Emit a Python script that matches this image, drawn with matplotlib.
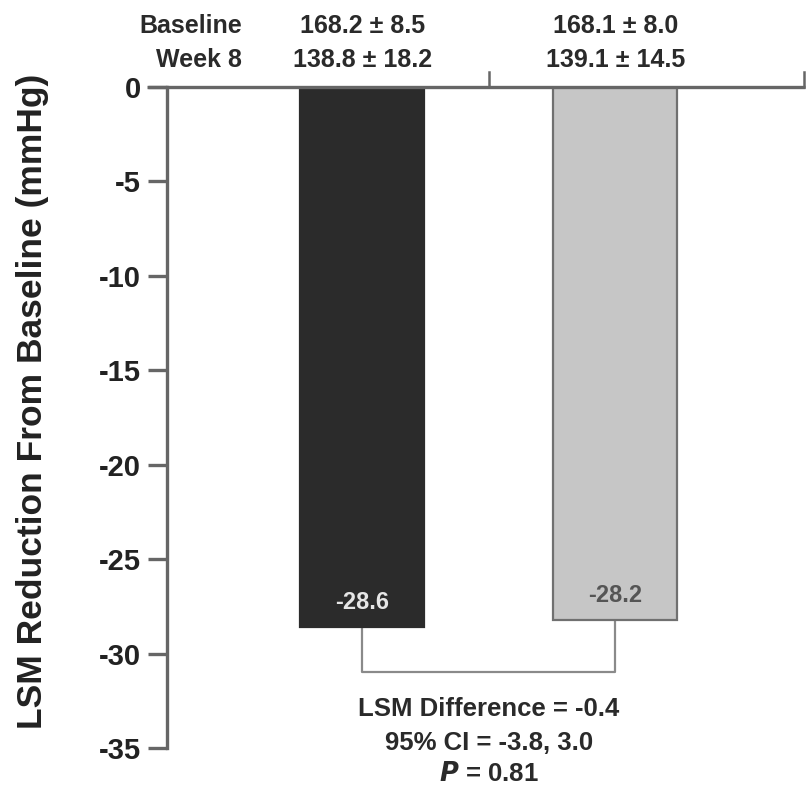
import matplotlib
matplotlib.use("Agg")
import matplotlib.pyplot as plt

plt.rcParams['font.family'] = ['Liberation Sans', 'DejaVu Sans']
plt.rcParams['font.weight'] = 'bold'

# Data
groups = ["Group A", "Group B"]
lsm_change = [-28.6, -28.2]
baseline_text = ["168.2 ± 8.5", "168.1 ± 8.0"]
week8_text = ["138.8 ± 18.2", "139.1 ± 14.5"]
bar_colors = ["#2b2b2b", "#c6c6c6"]
bar_edges = ["#2b2b2b", "#707070"]
label_colors = ["#e6e6e6", "#555555"]
yticks = [0, -5, -10, -15, -20, -25, -30, -35]
stats_lines = ["LSM Difference = -0.4", "95% CI = -3.8, 3.0", r"$\mathbf{\mathit{P}}$ = 0.81"]
bracket_level = -31.0

W, H = 808, 785
fig = plt.figure(figsize=(W / 100, H / 100), dpi=100)
# axes spans pixel x 147..805, y 87..748 (0 .. -35)
ax = fig.add_axes([147 / W, 1 - 748 / H, (805 - 147) / W, (748 - 87) / H])
ax.set_xlim(-0.85, 1.75)
ax.set_ylim(-35, 0)

axis_col = "#666666"
x = [0, 1]
ax.bar(x, lsm_change, width=0.49, color=bar_colors, edgecolor=bar_edges,
       linewidth=1.6, zorder=2)

for xi, v, c in zip(x, lsm_change, label_colors):
    ax.text(xi, v + 1.3, f"{v:.1f}", ha="center", va="center", fontsize=17,
            color=c, fontweight="bold", zorder=3)

# spines
for s in ["top", "right", "bottom"]:
    ax.spines[s].set_visible(False)
ax.spines["left"].set_position(("data", -0.77))
ax.spines["left"].set_color(axis_col)
ax.spines["left"].set_linewidth(2.4)
ax.set_xticks([])
ax.set_yticks(yticks)
ax.set_yticklabels([str(t) for t in yticks])
ax.tick_params(axis="y", direction="out", length=14, width=2.4, color=axis_col,
               labelsize=21, labelcolor="#222222", pad=5)

# zero line with divider ticks
ax.plot([-0.85, 1.75], [0, 0], color=axis_col, lw=2.4, clip_on=False, zorder=4,
        solid_capstyle="butt")
for xd in [0.5, 1.747]:
    ax.plot([xd, xd], [0, 0.8], color=axis_col, lw=1.8, clip_on=False, zorder=4)

# bracket between bars
bc = "#8a8a8a"
ax.plot([0, 0, 1, 1], [lsm_change[0], bracket_level, bracket_level, lsm_change[1]],
        color=bc, lw=1.6, zorder=1)

# stats text
for yv, line in zip([-32.95, -34.75, -36.4], stats_lines):
    ax.text(0.5, yv, line, ha="center", va="center", fontsize=18.5,
            color="#2a2a2a", fontweight="bold")

# header rows
txt_col = "#2a2a2a"
row1, row2 = 2.86, 1.06
ax.text(-0.475, row1, "Baseline", ha="right", va="baseline", fontsize=18, color=txt_col)
ax.text(-0.475, row2, "Week 8", ha="right", va="baseline", fontsize=18, color=txt_col)
for xi, b, w in zip(x, baseline_text, week8_text):
    ax.text(xi, row1, b, ha="center", va="baseline", fontsize=18, color=txt_col)
    ax.text(xi, row2, w, ha="center", va="baseline", fontsize=18, color=txt_col)

ax.set_ylabel("LSM Reduction From Baseline (mmHg)", fontsize=25.5, color="#222222",
              fontweight="bold")
ax.yaxis.set_label_coords((49 - 147) / 658, 0.525)

fig.savefig("out.png", dpi=100)
